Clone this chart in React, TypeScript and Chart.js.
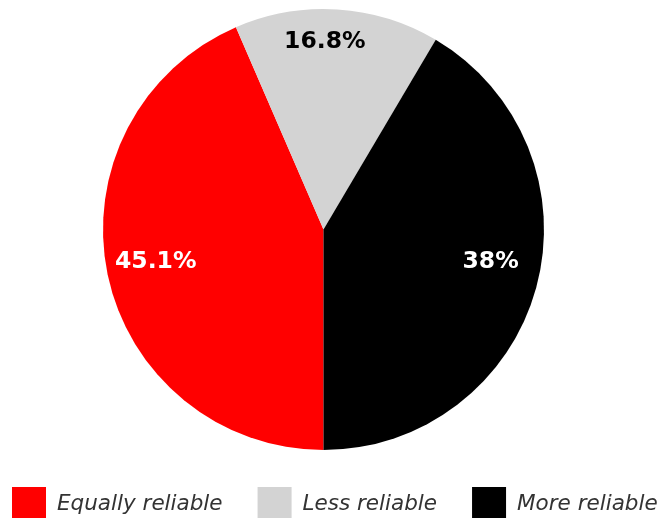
import React, { useEffect, useRef } from "react";
import { Chart, registerables } from "chart.js";

Chart.register(...registerables);

const categories = ["Equally reliable", "Less reliable", "More reliable"];
// slice shares as drawn in the picture
const sliceShares = [43.5, 15.0, 41.5];
// label texts shown on the slices
const sliceLabels = ["45.1%", "16.8%", "38%"];
const sliceColors = ["#ff0000", "#d3d3d3", "#000000"];
const labelColors = ["#ffffff", "#000000", "#ffffff"];

const sliceLabelPlugin = {
  id: "sliceLabels",
  afterDatasetsDraw(chart: any, _args: any, opts: any) {
    const meta = chart.getDatasetMeta(0);
    const ctx = chart.ctx;
    ctx.save();
    ctx.font = opts.font;
    ctx.textAlign = "center";
    ctx.textBaseline = "alphabetic";
    meta.data.forEach((arc: any, i: number) => {
      const p = arc.getProps(["x", "y", "startAngle", "endAngle", "outerRadius"], true);
      const mid = (p.startAngle + p.endAngle) / 2 + (opts.angleShift[i] * Math.PI) / 180;
      const r = p.outerRadius * opts.radiusFactor[i];
      const cx = p.x + Math.cos(mid) * r;
      const cy = p.y + Math.sin(mid) * r;
      const text = sliceLabels[i];
      const m = ctx.measureText(text);
      ctx.fillStyle = labelColors[i];
      ctx.fillText(text, cx, cy + (m.actualBoundingBoxAscent - m.actualBoundingBoxDescent) / 2);
    });
    ctx.restore();
  },
};

const bottomLegendPlugin = {
  id: "bottomLegend",
  afterDraw(chart: any, _args: any, opts: any) {
    const ctx = chart.ctx;
    ctx.save();
    ctx.font = opts.font;
    ctx.textBaseline = "middle";
    ctx.textAlign = "left";
    const labels = chart.data.labels as string[];
    const colors = chart.data.datasets[0].backgroundColor as string[];
    let x = opts.left;
    const top = chart.chartArea.bottom + opts.offsetTop;
    labels.forEach((label, i) => {
      ctx.fillStyle = colors[i];
      ctx.fillRect(x, top, opts.box, opts.box);
      x += opts.box + opts.textGap;
      ctx.fillStyle = opts.color;
      ctx.fillText(label, x, top + opts.box / 2);
      x += ctx.measureText(label).width + opts.itemGap;
    });
    ctx.restore();
  },
};

export default function App() {
  const ref = useRef<HTMLCanvasElement>(null);
  useEffect(() => {
    if (!ref.current) return;
    const chart = new Chart(ref.current, {
      type: "pie",
      data: {
        labels: categories,
        datasets: [
          {
            data: sliceShares,
            backgroundColor: sliceColors,
            borderWidth: 0,
          },
        ],
      },
      options: {
        responsive: false,
        animation: false,
        rotation: 180,
        layout: { padding: { top: 9, left: 0, right: 10, bottom: 68 } },
        plugins: {
          tooltip: { enabled: false },
          legend: { display: false },
          sliceLabels: {
            font: "bold 23.5px 'DejaVu Sans'",
            angleShift: [1.6, -3.2, -5],
            radiusFactor: [0.773, 0.86, 0.77],
          },
          bottomLegend: {
            font: "italic 21.5px 'DejaVu Sans'",
            color: "#333333",
            left: 12,
            offsetTop: 37,
            box: 34,
            textGap: 11,
            itemGap: 35,
          },
        } as any,
      },
      plugins: [sliceLabelPlugin, bottomLegendPlugin],
    });
    return () => chart.destroy();
  }, []);
  return (
    <div style={{ position: "fixed", left: 0, top: 0, width: 657, height: 518, overflow: "hidden", background: "#fff" }}>
      <canvas ref={ref} width={657} height={518} style={{ display: "block" }} />
    </div>
  );
}
